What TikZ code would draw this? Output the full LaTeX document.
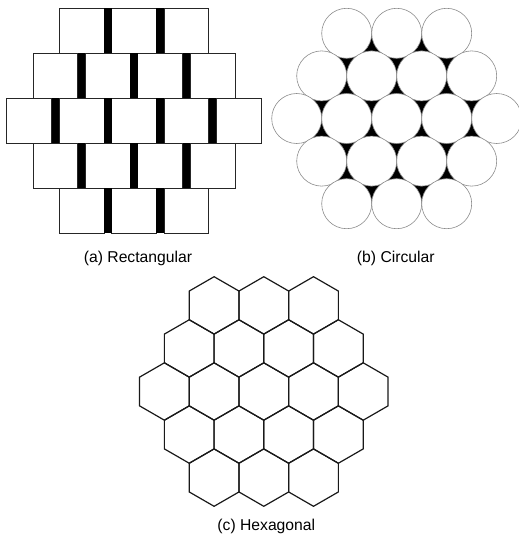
\documentclass[tikz,border=0pt]{standalone}
\usepackage{fontspec}
\setmainfont{Liberation Sans}
\usetikzlibrary{shapes.geometric,backgrounds}

\begin{document}
\begin{tikzpicture}[x=1pt,y=-1pt,
    square/.style ={rectangle, draw=black!85, line width=0.9pt, fill=white,
      minimum width=44.9pt, minimum height=45pt, inner sep=0pt},
    bar/.style ={rectangle, fill=black, minimum width=7.5pt, minimum height=45pt, inner sep=0pt},
    disc/.style ={circle, draw=black!45, line width=0.6pt, fill=white, minimum size=50pt, inner sep=0pt},
    hexa/.style ={regular polygon, regular polygon sides=6, shape border rotate=30,
      draw=black!90, line width=1.2pt, minimum size=57.4pt, inner sep=0pt},
    caption/.style ={font=\fontsize{15.7}{18}\selectfont, inner sep=0pt}]
   \useasboundingbox (0,0) rectangle (519,538);
   % (a) rectangular
   \foreach \r/\n in {0/3,1/4,2/5,3/4,4/3} {
     \foreach \k in {1,...,\n}
       \node[square] (R\r\k) at ({134+52.4*(\k-(\n+1)/2)}, {30.8+45*\r}) {};
     \foreach \k in {2,...,\n}
       \node[bar] (B\r\k) at ({134+52.4*(\k-1-\n/2)}, {30.8+45*\r}) {};
   }
   % (b) circular
   \foreach \r/\n in {0/3,1/4,2/5,3/4,4/3}
     \foreach \k in {1,...,\n}
       \node[disc] (C\r\k) at ({396.7+50*(\k-(\n+1)/2)}, {33.3+42.6*\r}) {};
   \begin{pgfonlayer}{background}
     \fill[black] (C01.center) -- (C03.center) -- (C25.center) -- (C43.center)
       -- (C41.center) -- (C21.center) -- cycle;
   \end{pgfonlayer}
   % (c) hexagonal
   \foreach \r/\n in {0/3,1/4,2/5,3/4,4/3}
     \foreach \k in {1,...,\n}
       \node[hexa] (H\r\k) at ({263.8+49.7*(\k-(\n+1)/2)}, {305.4+43.05*\r}) {};
   \node[caption] (capA) at (138,258.5) {(a) Rectangular};
   \node[caption] (capB) at (395.8,258.5) {(b) Circular};
   \node[caption] (capC) at (266.3,526.5) {(c) Hexagonal};
\end{tikzpicture}
\end{document}
